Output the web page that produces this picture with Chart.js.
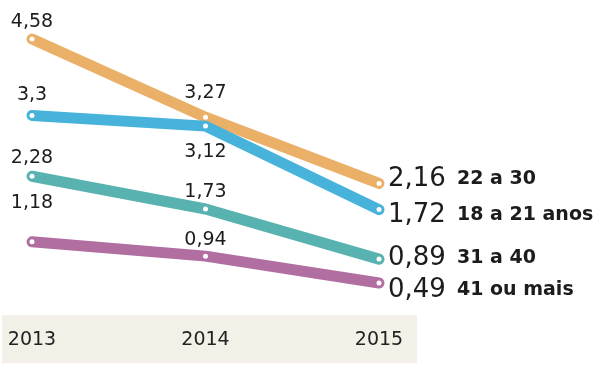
<!DOCTYPE html>
<html><head><meta charset="utf-8">
<script src="https://cdn.jsdelivr.net/npm/chart.js@4"></script>
<style>html,body{margin:0;padding:0;background:#fff}#wrap{width:597px;height:369px}</style>
</head><body><div id="wrap"><canvas id="c" width="597" height="369"></canvas></div>
<script>
// ---- data ----
const years = ['2013', '2014', '2015'];
const seriesNames = ['18 a 21 anos', '22 a 30', '31 a 40', '41 ou mais'];
const v18a21 = [3.3, 3.12, 1.72];
const v22a30 = [4.58, 3.27, 2.16];
const v31a40 = [2.28, 1.73, 0.89];
const v41mais = [1.18, 0.94, 0.49];

// ---- styles ----
const colors = ['#47b3db', '#ebb068', '#58b2af', '#b06fa0'];
const labelDy = [[-15, 31], [-12, -19], [-13, -12], [-34, -11]]; // baseline offsets for 2013/2014 labels
const endDy = [12.5, 3, 6, 14]; // baseline offsets for 2015 labels
const FONT = 'DejaVu Sans';

const fmt = v => String(v).replace('.', ',');

const bandPlugin = {
  id: 'band',
  beforeDraw(chart) {
    const {ctx, chartArea} = chart;
    ctx.save();
    ctx.fillStyle = '#f3f0e8';
    ctx.fillRect(2, chartArea.bottom + 3, 415, 48);
    ctx.restore();
  }
};

const labelPlugin = {
  id: 'vlabels',
  afterDatasetsDraw(chart) {
    const ctx = chart.ctx;
    ctx.save();
    ctx.fillStyle = '#1c1c1c';
    ctx.textBaseline = 'alphabetic';
    chart.data.datasets.forEach((ds, i) => {
      const meta = chart.getDatasetMeta(i);
      meta.data.forEach((pt, j) => {
        const v = ds.data[j];
        if (j < ds.data.length - 1) {
          ctx.font = '19px "' + FONT + '"';
          ctx.textAlign = 'center';
          ctx.fillText(fmt(v), pt.x, pt.y + labelDy[i][j]);
        } else {
          const by = pt.y + endDy[i];
          ctx.font = '26px "' + FONT + '"';
          ctx.textAlign = 'left';
          ctx.fillText(fmt(v), pt.x + 9, by);
          ctx.font = 'bold 19px "' + FONT + '"';
          ctx.fillText(ds.label, pt.x + 78, by - 2);
        }
      });
    });
    ctx.restore();
  }
};

const seriesValues = [v18a21, v22a30, v31a40, v41mais];
const datasets = seriesValues.map((vals, i) => ({
  label: seriesNames[i],
  data: vals,
  borderColor: colors[i],
  backgroundColor: colors[i],
  borderWidth: 11,
  borderCapStyle: 'round',
  borderJoinStyle: 'round',
  tension: 0,
  pointRadius: 2.5,
  pointHoverRadius: 2.5,
  pointBorderWidth: 0,
  pointBackgroundColor: '#ffffff',
  clip: false,
  fill: false
}));

new Chart(document.getElementById('c'), {
  type: 'line',
  data: {labels: years, datasets},
  options: {
    responsive: false,
    animation: false,
    layout: {padding: {left: 32, right: 218, top: 14, bottom: 12}},
    plugins: {legend: {display: false}, tooltip: {enabled: false}},
    scales: {
      x: {
        offset: false,
        grid: {display: false, drawTicks: true, tickLength: 10},
        border: {display: false},
        ticks: {color: '#222', font: {family: FONT, size: 19}, padding: 6}
      },
      y: {display: false, min: 0, max: 5}
    }
  },
  plugins: [bandPlugin, labelPlugin]
});
</script>
</body></html>
